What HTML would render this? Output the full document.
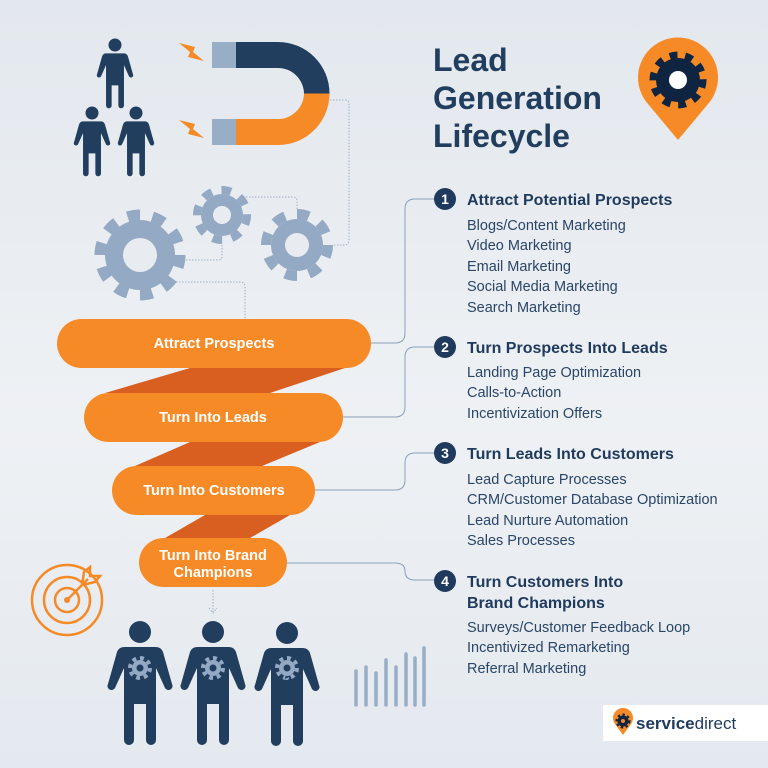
<!DOCTYPE html>
<html><head><meta charset="utf-8"><style>
html,body{margin:0;padding:0;}
body{width:768px;height:768px;overflow:hidden;background:linear-gradient(180deg,#e3e8ee 0%,#eef1f4 55%,#e4e9ef 100%);}
svg{display:block;}
text{font-family:"Liberation Sans",sans-serif;}
</style></head><body>
<svg width="768" height="768" viewBox="0 0 768 768" xmlns="http://www.w3.org/2000/svg">
<defs>
<path id="person" d="M-16,15 H16 Q21,15 23,20 L32,52 A4,4 0 0 1 25,56 L16,36 V108 A5,5 0 0 1 6,108 V72 H-6 V108 A5,5 0 0 1 -16,108 V36 L-25,56 A4,4 0 0 1 -32,52 L-23,20 Q-21,15 -16,15 Z"/>
</defs>
<g fill="none" stroke="#9fb0c6" stroke-width="1" stroke-dasharray="1.5 1.5">
<path d="M330,100 H345 Q349,100 349,104 V240 Q349,245 344,245 H332"/>
<path d="M240,197 H293 Q297,197 297,201 V210"/>
<path d="M177,260 H218 Q222,260 222,256 V245"/>
<path d="M170,282 H240 Q245,282 245,287 V319"/>
<path d="M213,590 V612"/>
<path d="M209,608 L213,613 L217,608"/>
</g>
<g fill="#213e5e">
<circle cx="115" cy="45" r="6.5"/><g transform="translate(115,45) scale(.56)"><use href="#person"/></g>
<circle cx="92" cy="113" r="6.5"/><g transform="translate(92,113) scale(.56)"><use href="#person"/></g>
<circle cx="136" cy="113" r="6.5"/><g transform="translate(136,113) scale(.56)"><use href="#person"/></g>
</g>
<rect x="212" y="42" width="25" height="26" fill="#98adc6"/>
<rect x="212" y="119" width="25" height="26" fill="#98adc6"/>
<path d="M236,42 H278 A51.5,51.5 0 0 1 329.5,93.5 H304 A26,26 0 0 0 278,68 H236 Z" fill="#213e5e"/>
<path d="M236,145 H278 A51.5,51.5 0 0 0 329.5,93.5 H304 A26,26 0 0 1 278,119 H236 Z" fill="#f68a26"/>
<polygon points="179,43 195,47 193,52 204,61 188,57 190,52" fill="#f68a26"/>
<polygon points="179,120 195,124 193,129 204,138 188,134 190,129" fill="#f68a26"/>
<g fill="#93a9c4">
<circle cx="140" cy="255" r="35"/><circle cx="140" cy="255" r="40" fill="none" stroke="#93a9c4" stroke-width="11" pathLength="20" stroke-dasharray="1 1"/>
<circle cx="222" cy="215" r="21"/><circle cx="222" cy="215" r="25" fill="none" stroke="#93a9c4" stroke-width="8" pathLength="16" stroke-dasharray="1 1"/>
<circle cx="297" cy="245" r="26"/><circle cx="297" cy="245" r="31" fill="none" stroke="#93a9c4" stroke-width="10" pathLength="16" stroke-dasharray="1 1"/>
</g>
<g fill="#e8ecf1"><circle cx="140" cy="255" r="17"/><circle cx="222" cy="215" r="9"/><circle cx="297" cy="245" r="12"/></g>
<g fill="none" stroke="#8aa0bb" stroke-width="1">
<path d="M371,343 H395 Q405,343 405,333 V209 Q405,199 415,199 H440"/>
<path d="M343,417 H395 Q405,417 405,407 V357 Q405,347 415,347 H440"/>
<path d="M315,490 H395 Q405,490 405,480 V463 Q405,453 415,453 H440"/>
<path d="M287,563 H395 Q405,563 405,571 Q405,580 415,580 H440"/>
</g>
<g fill="#d95f20">
<polygon points="190,368 345,368 270,393 105,393"/>
<polygon points="190,442 320,442 262,466 135,466"/>
<polygon points="205,515 290,515 250,538 165,538"/>
</g>
<g fill="#f68a26">
<rect x="57" y="319" width="314" height="49" rx="24.5"/>
<rect x="84" y="393" width="259" height="49" rx="24.5"/>
<rect x="112" y="466" width="203" height="49" rx="24.5"/>
<rect x="139" y="538" width="148" height="49" rx="24.5"/>
</g>
<g fill="#fff" font-weight="bold" font-size="14.5" text-anchor="middle">
<text x="214" y="348">Attract Prospects</text>
<text x="213" y="422">Turn Into Leads</text>
<text x="214" y="495">Turn Into Customers</text>
<text x="213" y="560">Turn Into Brand</text>
<text x="213" y="577">Champions</text>
</g>
<g fill="none" stroke="#f68a26" stroke-width="2.5">
<circle cx="67" cy="600" r="35"/><circle cx="67" cy="600" r="23"/><circle cx="67" cy="600" r="12"/>
<line x1="67" y1="600" x2="88" y2="579"/>
<path d="M82,585 L84,572 L90,567 L90,576 L100,576 L95,582 L82,585"/>
</g>
<circle cx="67" cy="600" r="3" fill="#f68a26"/>
<g fill="#213e5e">
<circle cx="140" cy="632" r="11"/><g transform="translate(140,632)"><use href="#person"/></g>
<circle cx="213" cy="632" r="11"/><g transform="translate(213,632)"><use href="#person"/></g>
<circle cx="287" cy="633" r="11"/><g transform="translate(287,633)"><use href="#person"/></g>
</g>
<g fill="#93a9c4" stroke="#93a9c4">
<circle cx="140" cy="668" r="8" stroke="none"/><circle cx="140" cy="668" r="10" fill="none" stroke-width="4" pathLength="16" stroke-dasharray="1 1"/>
<circle cx="213" cy="668" r="8" stroke="none"/><circle cx="213" cy="668" r="10" fill="none" stroke-width="4" pathLength="16" stroke-dasharray="1 1"/>
<circle cx="287" cy="668" r="8" stroke="none"/><circle cx="287" cy="668" r="10" fill="none" stroke-width="4" pathLength="16" stroke-dasharray="1 1"/>
</g>
<g fill="#213e5e"><circle cx="140" cy="668" r="3.5"/><circle cx="213" cy="668" r="3.5"/><circle cx="287" cy="668" r="3.5"/></g>
<g stroke="#98adc6" stroke-width="3.5" stroke-linecap="round">
<line x1="356" y1="671" x2="356" y2="705"/><line x1="366" y1="667" x2="366" y2="705"/>
<line x1="376" y1="673" x2="376" y2="705"/><line x1="386" y1="660" x2="386" y2="705"/>
<line x1="396" y1="667" x2="396" y2="705"/><line x1="406" y1="654" x2="406" y2="705"/>
<line x1="415" y1="658" x2="415" y2="705"/><line x1="424" y1="648" x2="424" y2="705"/>
</g>
<g fill="#213e5e" font-weight="bold" font-size="32">
<text x="433" y="71">Lead</text>
<text x="433" y="109">Generation</text>
<text x="433" y="147">Lifecycle</text>
</g>
<path d="M678,140 L648,104 A40,40 0 1 1 708,104 Z" fill="#f68a26"/>
<circle cx="678" cy="80" r="22" fill="#0f2440"/>
<circle cx="678" cy="80" r="25" fill="none" stroke="#0f2440" stroke-width="7" pathLength="20" stroke-dasharray="1 1"/>
<circle cx="678" cy="80" r="9" fill="#fff"/>
<g fill="#1f3a5c">
<circle cx="445" cy="199" r="11"/><circle cx="445" cy="347" r="11"/><circle cx="445" cy="453" r="11"/><circle cx="445" cy="581" r="11"/>
</g>
<g fill="#fff" font-weight="bold" font-size="14" text-anchor="middle">
<text x="445" y="204">1</text><text x="445" y="352">2</text><text x="445" y="458">3</text><text x="445" y="586">4</text>
</g>
<g fill="#1f3a5c" font-weight="bold" font-size="16">
<text x="467" y="205">Attract Potential Prospects</text>
<text x="467" y="353">Turn Prospects Into Leads</text>
<text x="467" y="459">Turn Leads Into Customers</text>
<text x="467" y="587">Turn Customers Into</text>
<text x="467" y="608">Brand Champions</text>
</g>
<g fill="#2a4566" font-size="14.5">
<text x="467" y="230">Blogs/Content Marketing</text>
<text x="467" y="250">Video Marketing</text>
<text x="467" y="271">Email Marketing</text>
<text x="467" y="291">Social Media Marketing</text>
<text x="467" y="312">Search Marketing</text>
<text x="467" y="377">Landing Page Optimization</text>
<text x="467" y="397">Calls-to-Action</text>
<text x="467" y="418">Incentivization Offers</text>
<text x="467" y="484">Lead Capture Processes</text>
<text x="467" y="504">CRM/Customer Database Optimization</text>
<text x="467" y="525">Lead Nurture Automation</text>
<text x="467" y="545">Sales Processes</text>
<text x="467" y="632">Surveys/Customer Feedback Loop</text>
<text x="467" y="652">Incentivized Remarketing</text>
<text x="467" y="673">Referral Marketing</text>
</g>
<rect x="603" y="705" width="165" height="36" fill="#fff"/>
<path d="M623,735 L615,724 A10,10 0 1 1 631,724 Z" fill="#f68a26"/>
<circle cx="623" cy="721" r="5.5" fill="#0f2440"/>
<circle cx="623" cy="721" r="6.5" fill="none" stroke="#0f2440" stroke-width="2" pathLength="16" stroke-dasharray="1 1"/>
<circle cx="623" cy="721" r="2" fill="#f68a26"/>
<text x="636" y="729" font-size="17" fill="#1f3a5c"><tspan font-weight="bold">service</tspan><tspan>direct</tspan></text>
</svg>
</body></html>
